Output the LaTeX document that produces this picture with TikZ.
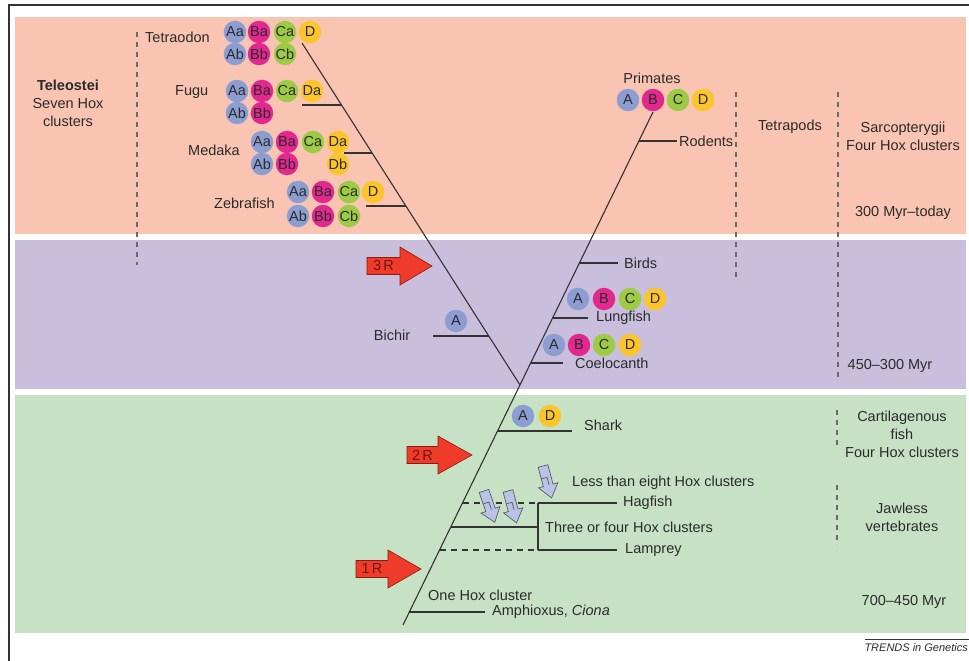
\documentclass[tikz,border=0pt]{standalone}
\usepackage{fontspec}
\setmainfont{Liberation Sans}
\definecolor{bandP}{HTML}{F9C4B1}
\definecolor{bandV}{HTML}{C9BFDC}
\definecolor{bandG}{HTML}{C7E1C5}
\definecolor{hoxA}{HTML}{8C9DD2}
\definecolor{hoxB}{HTML}{E2278E}
\definecolor{hoxC}{HTML}{9DCB45}
\definecolor{hoxD}{HTML}{FDC52C}
\definecolor{txtc}{HTML}{2B2B2B}
\definecolor{linec}{HTML}{333333}
\definecolor{dashc}{HTML}{6A6A6A}
\definecolor{redf}{HTML}{EE3B2A}
\definecolor{redd}{HTML}{8B1A10}
\definecolor{blf}{HTML}{B9C3E8}
\newcommand\myfs{\fontsize{14.5}{18}\selectfont}
\newcommand\dupArrow[6]{%
  \draw[redarrow] (#2,#5-8.5) -- (#3,#5-8.5) -- (#3,#5-19) -- (#4,#5) -- (#3,#5+19) -- (#3,#5+8.5) -- (#2,#5+8.5) -- cycle;
  \node[arrtxt] (#1) at ({(#2+#3)/2},#5) {#6};}
\newcommand\lossArrow[3]{%
  \begin{scope}[shift={(#1,#2)}, rotate=#3]
    \draw[blarrow] (-5,0) -- (5,0) -- (5,20) -- (10,20) -- (0,33) -- (-10,20) -- (-5,20) -- cycle;
    \draw[blarrow, fill=none] (-5,12) -- (1,12) -- (1,20);
  \end{scope}}
\begin{document}
\begin{tikzpicture}[x=1pt,y=-1pt,
  txt/.style={inner sep=0pt, text=txtc, font=\myfs},
  hox/.style={circle, minimum size=22.5pt, inner sep=0pt, text=txtc, font=\myfs},
  cA/.style={hox, fill=hoxA},
  cB/.style={hox, fill=hoxB},
  cC/.style={hox, fill=hoxC},
  cD/.style={hox, fill=hoxD},
  tree/.style={draw=linec, line width=1.1pt},
  treedash/.style={draw=linec, line width=1.1pt, dash pattern=on 6pt off 5pt},
  sep/.style={draw=dashc, line width=1.2pt, dash pattern=on 5pt off 5pt},
  redarrow/.style={fill=redf, draw=redd, line width=0.6pt},
  arrtxt/.style={inner sep=0pt, text=redd!80!black, font=\myfs},
  blarrow/.style={fill=blf, draw=linec!80, line width=0.7pt, line join=miter}
]
\useasboundingbox (0,0) rectangle (969,661);
% frame and bands
\draw[line width=1.6pt, draw=linec] (9,661) -- (9,5) -- (969,5);
\fill[bandP] (15,17) rectangle (966,234);
\fill[bandV] (15,240) rectangle (966,389);
\fill[bandG] (15,395) rectangle (966,633);

% separators
\draw[sep] (137,32) -- (137,265);
\draw[sep] (736,92) -- (736,278);
\draw[sep] (838,92) -- (838,378);
\draw[sep] (837,410) -- (837,447);
\draw[sep] (837,485) -- (837,545);

% tree coordinates
\coordinate (rtop) at (653,112);
\coordinate (rbot) at (403,625);
\coordinate (ltop) at (302,43);
\coordinate (junc) at (520,385);
\draw[tree] (rtop) -- (rbot);
\draw[tree] (ltop) -- (junc);

% left branches
\coordinate (fuL) at (341.5,105); \coordinate (fuE) at (302,105);
\coordinate (meL) at (372.1,153); \coordinate (meE) at (344,153);
\coordinate (zeL) at (405.9,206); \coordinate (zeE) at (366,206);
\coordinate (biL) at (488.8,336); \coordinate (biE) at (433,336);
\draw[tree] (fuL) -- (fuE);
\draw[tree] (meL) -- (meE);
\draw[tree] (zeL) -- (zeE);
\draw[tree] (biL) -- (biE);

% right branches
\coordinate (roL) at (638.9,141); \coordinate (roE) at (677,141);
\coordinate (bdL) at (579.4,263); \coordinate (bdE) at (618,263);
\coordinate (luL) at (552.6,318); \coordinate (luE) at (588,318);
\coordinate (coL) at (530.7,363); \coordinate (coE) at (563,363);
\coordinate (shL) at (497.6,431); \coordinate (shE) at (572,431);
\coordinate (haL) at (462.5,503); \coordinate (haK) at (538,503); \coordinate (haE) at (617,503);
\coordinate (miL) at (450.8,527); \coordinate (miK) at (538,527);
\coordinate (laL) at (439.6,550); \coordinate (laK) at (538,550); \coordinate (laE) at (617,550);
\coordinate (amL) at (409.3,612); \coordinate (amE) at (485,612);
\draw[tree] (roL) -- (roE);
\draw[tree] (bdL) -- (bdE);
\draw[tree] (luL) -- (luE);
\draw[tree] (coL) -- (coE);
\draw[tree] (shL) -- (shE);
\draw[treedash] (haL) -- (haK);
\draw[tree] (haK) -- (haE);
\draw[tree] (miL) -- (miK);
\draw[treedash] (laL) -- (laK);
\draw[tree] (laK) -- (laE);
\draw[tree] (haK) -- (laK);
\draw[tree] (amL) -- (amE);

% teleost circles
\node[cA] (teAa) at (235,32) {Aa}; \node[cB] (teBa) at (259,32) {Ba}; \node[cC] (teCa) at (285,32) {Ca}; \node[cD] (teD) at (310,32) {D};
\node[cA] (teAb) at (235,54) {Ab}; \node[cB] (teBb) at (259,54) {Bb}; \node[cC] (teCb) at (285,54) {Cb};
\node[cA] (fuAa) at (237,91) {Aa}; \node[cB] (fuBa) at (262,91) {Ba}; \node[cC] (fuCa) at (287,91) {Ca}; \node[cD] (fuDa) at (312,91) {Da};
\node[cA] (fuAb) at (237,113) {Ab}; \node[cB] (fuBb) at (262,113) {Bb};
\node[cA] (meAa) at (262,142) {Aa}; \node[cB] (meBa) at (287,142) {Ba}; \node[cC] (meCa) at (313,142) {Ca}; \node[cD] (meDa) at (338,142) {Da};
\node[cA] (meAb) at (262,164) {Ab}; \node[cB] (meBb) at (287,164) {Bb}; \node[cD] (meDb) at (338,164) {Db};
\node[cA] (zeAa) at (298,192) {Aa}; \node[cB] (zeBa) at (323,192) {Ba}; \node[cC] (zeCa) at (349,192) {Ca}; \node[cD] (zeD) at (373,192) {D};
\node[cA] (zeAb) at (298,216) {Ab}; \node[cB] (zeBb) at (323,216) {Bb}; \node[cC] (zeCb) at (349,216) {Cb};

% other circles
\node[cA] (prA) at (628,100) {A}; \node[cB] (prB) at (653,100) {B}; \node[cC] (prC) at (678,100) {C}; \node[cD] (prD) at (703,100) {D};
\node[cA] (luA) at (578,299) {A}; \node[cB] (luB) at (604,299) {B}; \node[cC] (luC) at (630,299) {C}; \node[cD] (luD) at (655,299) {D};
\node[cA] (coA) at (554,345) {A}; \node[cB] (coB) at (579,345) {B}; \node[cC] (coC) at (604,345) {C}; \node[cD] (coD) at (630,345) {D};
\node[cA] (biA) at (456,321) {A};
\node[cA] (shA) at (523,416) {A}; \node[cD] (shD) at (550,416) {D};

% labels
\node[txt, anchor=west] (tTetra) at (145,37) {Tetraodon};
\node[txt, anchor=west] (tFugu) at (175,92) {Fugu};
\node[txt, anchor=west] (tMedaka) at (188,150) {Medaka};
\node[txt, anchor=west] (tZebra) at (214,203) {Zebrafish};
\node[txt, align=center] (tTele) at (68,103) {\textbf{Teleostei}\\Seven Hox\\clusters};
\node[txt] (tPrim) at (652,78) {Primates};
\node[txt, anchor=west] (tRod) at (679,141) {Rodents};
\node[txt] (tTetrap) at (790,127) {Tetrapods};
\node[txt, align=center] (tSarc) at (903,136) {Sarcopterygii\\Four Hox clusters};
\node[txt] (t300) at (903,213) {300 Myr--today};
\node[txt, anchor=west] (tBirds) at (624,263) {Birds};
\node[txt, anchor=west] (tLung) at (596,318) {Lungfish};
\node[txt, anchor=west] (tCoel) at (575,363) {Coelocanth};
\node[txt] (tBich) at (392,335) {Bichir};
\node[txt] (t450) at (890,366) {450--300 Myr};
\node[txt, anchor=west] (tShark) at (584,425) {Shark};
\node[txt, anchor=west] (tLess) at (572,483) {Less than eight Hox clusters};
\node[txt, anchor=west] (tHag) at (623,503) {Hagfish};
\node[txt, anchor=west] (tThree) at (545,527) {Three or four Hox clusters};
\node[txt, anchor=west] (tLamp) at (625,550) {Lamprey};
\node[txt, anchor=west] (tOne) at (428,595) {One Hox cluster};
\node[txt, anchor=west] (tAmph) at (492,612) {Amphioxus, \textit{Ciona}};
\node[txt, align=center] (tCart) at (902,434) {Cartilagenous\\fish\\Four Hox clusters};
\node[txt, align=center] (tJaw) at (902,517) {Jawless\\vertebrates};
\node[txt] (t700) at (904,602) {700--450 Myr};
\node[inner sep=0pt, text=txtc, font=\fontsize{11}{13}\selectfont\itshape, anchor=east] (tTrends) at (968,648) {TRENDS in Genetics};
\draw[draw=linec, line width=0.7pt] (865,639) -- (969,639);

% red duplication arrows
\dupArrow{r3}{367}{400}{432}{266}{3\,R}
\dupArrow{r2}{407}{438}{472}{455}{2\,R}
\dupArrow{r1}{356}{388}{421}{569}{1\,R}

% small loss arrows
\lossArrow{484}{491}{19}
\lossArrow{508}{491}{15}
\lossArrow{543}{466}{15}
\end{tikzpicture}
\end{document}
